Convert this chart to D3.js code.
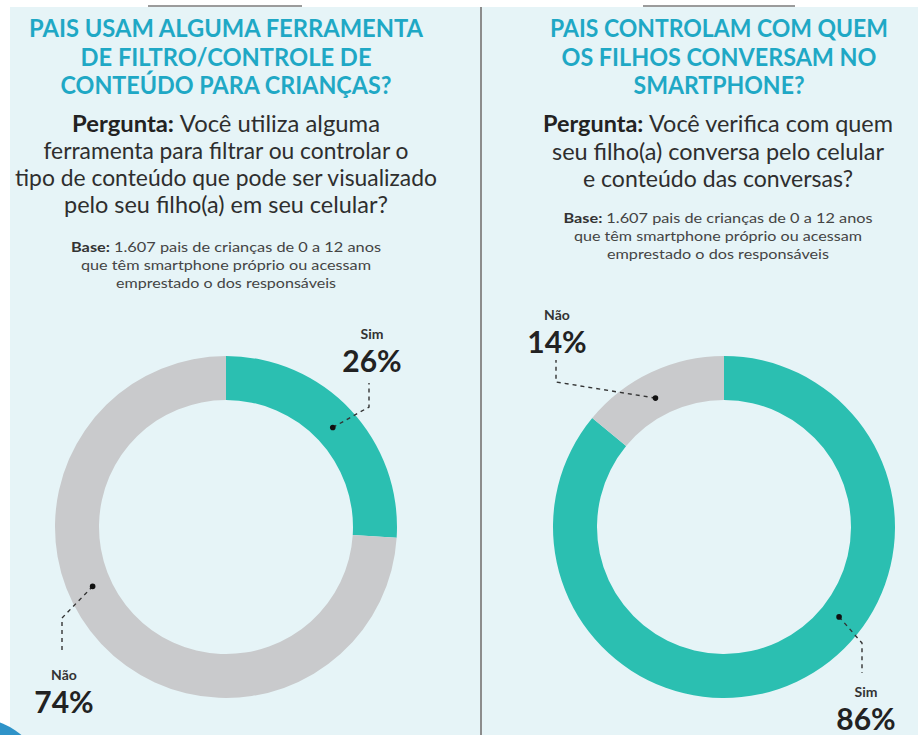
<!DOCTYPE html>
<html><head><meta charset="utf-8">
<script src="https://cdn.jsdelivr.net/npm/d3@7"></script>
<style>html,body{margin:0;padding:0;background:#fff;overflow:hidden}svg{display:block}</style>
</head><body><svg id="c" width="918" height="735"></svg>
<script>
// ---- data ----
const categories = ["Sim", "Não"];
const valuesLeft = [26, 74];
const valuesRight = [86, 14];
const titleLeft = ["PAIS USAM ALGUMA FERRAMENTA", "DE FILTRO/CONTROLE DE", "CONTEÚDO PARA CRIANÇAS?"];
const titleRight = ["PAIS CONTROLAM COM QUEM", "OS FILHOS CONVERSAM NO", "SMARTPHONE?"];
const questionLeft = ["Você utiliza alguma", "ferramenta para filtrar ou controlar o", "tipo de conteúdo que pode ser visualizado", "pelo seu filho(a) em seu celular?"];
const questionRight = ["Você verifica com quem", "seu filho(a) conversa pelo celular", "e conteúdo das conversas?"];
const baseLines = ["1.607 pais de crianças de 0 a 12 anos", "que têm smartphone próprio ou acessam", "emprestado o dos responsáveis"];

// ---- style ----
const FONT = "Lato, 'Open Sans', sans-serif";
const colors = {Sim: "#2bbfb1", "Não": "#c9cacc"};
const svg = d3.select("#c");

svg.append("rect").attr("x", 10).attr("y", 7).attr("width", 908).attr("height", 728).attr("fill", "#e6f4f7");
svg.append("line").attr("x1", 148).attr("x2", 302).attr("y1", 6).attr("y2", 6).attr("stroke", "#7a7a7a").attr("stroke-width", 1.5);
svg.append("line").attr("x1", 643).attr("x2", 795).attr("y1", 6).attr("y2", 6).attr("stroke", "#7a7a7a").attr("stroke-width", 1.5);
svg.append("line").attr("x1", 481).attr("x2", 481).attr("y1", 7).attr("y2", 735).attr("stroke", "#8c8c8c").attr("stroke-width", 2);
svg.append("circle").attr("cx", -25).attr("cy", 790).attr("r", 72).attr("fill", "#2f93c8");

function fit(sel, w) {
  sel.each(function() {
    const cur = this.getComputedTextLength();
    if (w && Math.abs(cur - w) / w < 0.2) {
      d3.select(this).attr("textLength", w).attr("lengthAdjust", "spacingAndGlyphs");
    }
  });
}

function panel(cfg) {
  const g = svg.append("g");
  // title
  cfg.title.forEach((t, i) => {
    g.append("text").attr("x", cfg.tx).attr("y", 37 + i * 28.5).attr("text-anchor", "middle")
      .attr("font-family", FONT).attr("font-weight", 700).attr("font-size", 24).attr("fill", "#1fa8c5")
      .text(t).call(fit, cfg.titleW[i]);
  });
  // question
  cfg.question.forEach((t, i) => {
    const tx = g.append("text").attr("x", cfg.qx).attr("y", cfg.qy + i * cfg.qdy).attr("text-anchor", "middle")
      .attr("font-family", FONT).attr("font-size", 22.5).attr("fill", "#2e2e2e");
    if (i === 0) { tx.append("tspan").attr("font-weight", 700).attr("fill", "#222").text("Pergunta: "); }
    tx.append("tspan").text(t);
    tx.call(fit, cfg.qW[i]);
  });
  // base
  baseLines.forEach((t, i) => {
    const tx = g.append("text").attr("x", cfg.qx).attr("y", cfg.by + i * 18).attr("text-anchor", "middle")
      .attr("font-family", FONT).attr("font-size", 14).attr("fill", "#444");
    if (i === 0) { tx.append("tspan").attr("font-weight", 700).attr("fill", "#333").text("Base: "); }
    tx.append("tspan").text(t);
    tx.call(fit, cfg.bW[i]);
  });
  // donut
  const data = categories.map((c, i) => ({cat: c, value: cfg.values[i]}));
  const pie = d3.pie().sort(null).value(d => d.value);
  const arcs = pie(data);
  const arc = d3.arc().innerRadius(127).outerRadius(171);
  const dg = g.append("g").attr("transform", `translate(${cfg.cx},${cfg.cy})`);
  dg.selectAll("path").data(arcs).join("path").attr("d", arc).attr("fill", d => colors[d.data.cat]);
  // labels with leaders
  arcs.forEach((a, i) => {
    const L = cfg.labels[i];
    const ang = L.angle * Math.PI / 180;
    const r = 146;
    const dx = cfg.cx + r * Math.sin(ang), dy = cfg.cy - r * Math.cos(ang);
    const pts = [[dx, dy], [L.bendX, L.bendY], [L.bendX, L.endY]];
    g.append("path").attr("d", d3.line()(pts)).attr("fill", "none").attr("stroke", "#333")
      .attr("stroke-width", 1.4).attr("stroke-dasharray", "4,4");
    g.append("circle").attr("cx", dx).attr("cy", dy).attr("r", 2.8).attr("fill", "#111");
    g.append("text").attr("x", L.lx).attr("y", L.ly).attr("text-anchor", "middle")
      .attr("font-family", FONT).attr("font-weight", 700).attr("font-size", 14).attr("fill", "#333").text(a.data.cat);
    g.append("text").attr("x", L.lx).attr("y", L.ly + 33).attr("text-anchor", "middle")
      .attr("font-family", FONT).attr("font-weight", 700).attr("font-size", 30).attr("fill", "#222").text(a.data.value + "%");
  });
}

panel({
  values: valuesLeft, title: titleLeft, question: questionLeft,
  tx: 226, titleW: [394, 291, 331],
  qx: 226, qy: 132, qdy: 27, qW: [308, 365, 422, 324],
  by: 252, bW: [310, 290, 220],
  cx: 226, cy: 527,
  labels: [
    {angle: 47, bendX: 369, bendY: 407, endY: 383, lx: 372, ly: 339},
    {angle: 246, bendX: 62, bendY: 618, endY: 653, lx: 64, ly: 680}
  ]
});
panel({
  values: valuesRight, title: titleRight, question: questionRight,
  tx: 719, titleW: [338, 315, 171],
  qx: 718, qy: 132, qdy: 27.5, qW: [350, 332, 270],
  by: 223, bW: [309, 288, 222],
  cx: 724, cy: 527,
  labels: [
    {angle: 128, bendX: 862, bendY: 643, endY: 673, lx: 866, ly: 697},
    {angle: 332, bendX: 556, bendY: 382, endY: 360, lx: 557, ly: 320}
  ]
});
</script></body></html>
